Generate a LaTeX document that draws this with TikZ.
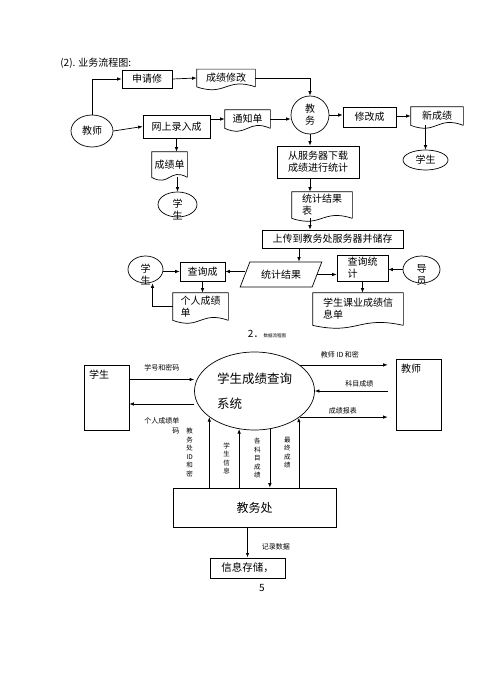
\documentclass[tikz,border=0pt]{standalone}
\usepackage{fontspec}
\setmainfont{Noto Sans CJK SC}
\usetikzlibrary{arrows.meta,shapes.geometric,calc}

\newcommand{\twoline}[2]{\smash{\raisebox{-3pt}{\begin{tabular}[t]{@{}c@{}}#1\\#2\end{tabular}}}}

\begin{document}
\begin{tikzpicture}
[x=1pt,y=-1pt,line width=0.7pt,>={Latex[length=4.5pt,width=3.5pt]},
box/.style={rectangle,draw,inner sep=2pt,font=\fontsize{10}{12}\selectfont},
docbox/.style={rectangle,inner sep=2pt,font=\fontsize{10}{12}\selectfont},
oval/.style={ellipse,draw,inner sep=0pt,font=\fontsize{10}{12}\selectfont},
lbl/.style={inner sep=0pt,font=\fontsize{7}{10}\selectfont},
vlbl/.style={inner sep=0pt,align=center,font=\fontsize{6.5}{8.5}\selectfont}]
\useasboundingbox (0,0) rectangle (500,693);

% business flow
\node at (60,63) [anchor=west,inner sep=0pt,font=\fontsize{10}{12}\selectfont] (title) {(2). 业务流程图:};
\node at (147,79) [box,minimum width=50pt,minimum height=18pt] (shenqing) {申请修};
\node at (226,78) [docbox,minimum width=58pt,minimum height=17pt] (xiugai) {成绩修改};
\node at (92,131) [oval,minimum width=42pt,minimum height=32pt] (jiaoshi) {教师};
\node at (176.5,126.5) [box,minimum width=67pt,minimum height=23pt] (luru) {网上录入成};
\node at (247.5,119) [docbox,minimum width=45pt,minimum height=18pt] (tongzhi) {通知单};
\node at (310,115) [circle,draw,inner sep=0pt,minimum size=38pt,align=center,font=\fontsize{10}{12}\selectfont] (jiaowu) {教\\务};
\node at (169.5,164.5) [docbox,minimum width=35pt,minimum height=25pt] (chengjidan) {成绩单};
\node at (177.5,204.5) [oval,minimum width=39pt,minimum height=25pt] (xuesheng1) {\twoline{学}{生}};
\node at (369.5,117) [box,minimum width=53pt,minimum height=20pt] (xiugaicheng) {修改成};
\node at (437,116) [docbox,minimum width=52pt,minimum height=18pt] (xinchengji) {新成绩};
\node at (425.5,160) [oval,minimum width=45pt,minimum height=20pt] (xuesheng2) {学生};
\node at (318,162) [box,minimum width=82pt,minimum height=32pt,align=left] (xiazai) {从服务器下载\\成绩进行统计};
\node at (322,205) [docbox,minimum width=60pt,minimum height=26pt,align=left] (tongjibiao) {统计结果\\表};
\node at (332.5,239) [box,minimum width=141pt,minimum height=18pt] (shangchuan) {上传到教务处服务器并储存};
\node at (281,274.5) [trapezium,draw,trapezium left angle=60,trapezium right angle=120,trapezium stretches=true,minimum width=82pt,minimum height=25pt,inner sep=1pt,font=\fontsize{10}{12}\selectfont] (jieguo) {统计结果};
\node at (202.5,271.5) [box,minimum width=45pt,minimum height=19pt] (chaxun) {查询成};
\node at (145.5,269.5) [oval,minimum width=35pt,minimum height=27pt] (xuesheng3) {\twoline{学}{生}};
\node at (200.5,306.5) [docbox,minimum width=55pt,minimum height=27pt,align=left] (gerendan) {个人成绩\\单};
\node at (362.5,268) [box,minimum width=51pt,minimum height=26pt,align=left] (chaxuntongji) {查询统\\计};
\node at (421.5,269.5) [oval,minimum width=37pt,minimum height=27pt] (daoyuan) {\twoline{导}{员}};
\node at (358,309) [docbox,minimum width=90pt,minimum height=32pt,align=left] (xinxidan) {学生课业成绩信\\息单};
\node at (267,334) [inner sep=0pt] (caption) {{\fontsize{10}{12}\selectfont 2．}{\fontsize{4.5}{5}\selectfont 数据流程图}};

% document outlines
\foreach \d in {xiugai,tongzhi,chengjidan,xinchengji,tongjibiao,gerendan,xinxidan}
  \draw (\d.south east) -- (\d.north east) -- (\d.north west) -- (\d.south west)
    .. controls ($(\d.south)+(0pt,-10pt)$) and ($(\d.south)+(0pt,10pt)$) .. (\d.south east);

\draw [->] (jiaoshi.north) |- (shenqing.west);
\draw [->] (shenqing.east) -- (xiugai.west);
\draw [->] (xiugai.east) -| (jiaowu.north);
\draw [->] (jiaoshi.east) -- (luru.west);
\draw [->] (luru.east |- tongzhi.west) -- (tongzhi.west);
\draw [->] (tongzhi.east) -- (tongzhi.east -| jiaowu.west);
\draw [->] (luru.south) -- (luru.south |- chengjidan.north);
\draw [->] (xuesheng1.north |- chengjidan.south) -- (xuesheng1.north);
\draw [->] (jiaowu.east) -- (jiaowu.east -| xiugaicheng.west);
\draw [->] (xiugaicheng.east |- xinchengji.west) -- (xinchengji.west);
\draw [->] (xuesheng2.north |- xinchengji.south) -- (xuesheng2.north);
\draw [->] (jiaowu.south) -- (jiaowu.south |- xiazai.north);
\draw [->] (jiaowu.south |- xiazai.south) -- (jiaowu.south |- tongjibiao.north);
\draw [->] (jiaowu.south |- tongjibiao.south) -- (jiaowu.south |- shangchuan.north);
\draw [->] ([xshift=18pt]jieguo.north |- shangchuan.south) -- ([xshift=18pt]jieguo.north);
\draw [->] (jieguo.west |- chaxun.east) -- (chaxun.east);
\draw [->] (xuesheng3.east |- chaxun.west) -- (chaxun.west);
\draw [->] (chaxun.south) -- (chaxun.south |- gerendan.north);
\draw [->] (gerendan.west) -| ([xshift=7pt]xuesheng3.south);
\draw [->] (jieguo.east) -- (jieguo.east -| chaxuntongji.west);
\draw [->] (daoyuan.west) -- (daoyuan.west -| chaxuntongji.east);
\draw [->] (chaxuntongji.south) -- (chaxuntongji.south |- xinxidan.north);

% data flow
\node at (106.5,397.5) [box,minimum width=45pt,minimum height=65pt,
  label={[anchor=north west,inner sep=5pt,font=\fontsize{10}{12}\selectfont]north west:学生}] (xsbox) {};
\node at (418.5,394.5) [box,minimum width=45pt,minimum height=71pt,
  label={[anchor=north west,inner sep=5pt,font=\fontsize{10}{12}\selectfont]north west:教师}] (jsbox) {};
\node at (254.5,391) [oval,minimum width=120pt,minimum height=78pt,align=left,font=\fontsize{12.5}{15}\selectfont] (xitong) {学生成绩查询\\[10pt]系统};
\node at (254.5,507.5) [box,minimum width=163pt,minimum height=39pt,font=\fontsize{12}{14}\selectfont] (jwc) {教务处};
\node at (247.5,568) [box,line width=1pt,minimum width=75pt,minimum height=20pt,font=\fontsize{10.5}{12}\selectfont] (xxcc) {信息存储，};
\node at (262,588) [inner sep=0pt,font=\fontsize{10}{12}\selectfont] (page) {5};

\draw [->] ([yshift=18pt]xsbox.east) -- ([yshift=18pt]xsbox.east -| xitong.west)
  node [lbl,midway,above=8pt] {学号和密码};
\draw [->] ([yshift=-6.5pt]xsbox.east -| xitong.west) -- ([yshift=-6.5pt]xsbox.east)
  node [lbl,midway,below=13pt,align=right] {个人成绩单\\码};
\draw [->,shorten >=8pt] (xitong.30) -- (xitong.30 -| jsbox.west)
  node [lbl,pos=0.42,above=6pt] {教师 ID 和密};
\draw [->,shorten <=8pt] (xitong.east -| jsbox.west) -- (xitong.east)
  node [lbl,pos=0.45,above=4pt] {科目成绩};
\draw [->,shorten >=8pt] (xitong.-30) -- (xitong.-30 -| jsbox.west)
  node [lbl,pos=0.45,above=3pt] {成绩报表};

\draw [->] (xitong.210 |- jwc.north) -- (xitong.210)
  node [vlbl,midway,left=16pt] {教\\务\\处\\ID\\和\\密};
\draw [->] (xitong.248 |- jwc.north) -- (xitong.248)
  node [vlbl,midway,left=9pt] {学\\生\\信\\息};
\draw [->] (xitong.292) -- (xitong.292 |- jwc.north)
  node [vlbl,midway,left=9pt] {各\\科\\目\\成\\绩};
\draw [->] (xitong.329 |- jwc.north) -- (xitong.329)
  node [vlbl,midway,left=8pt] {最\\终\\成\\绩};
\draw [->] (xxcc.north |- jwc.south) -- (xxcc.north)
  node [lbl,midway,right=14pt,yshift=-4pt] {记录数据};
\end{tikzpicture}
\end{document}
